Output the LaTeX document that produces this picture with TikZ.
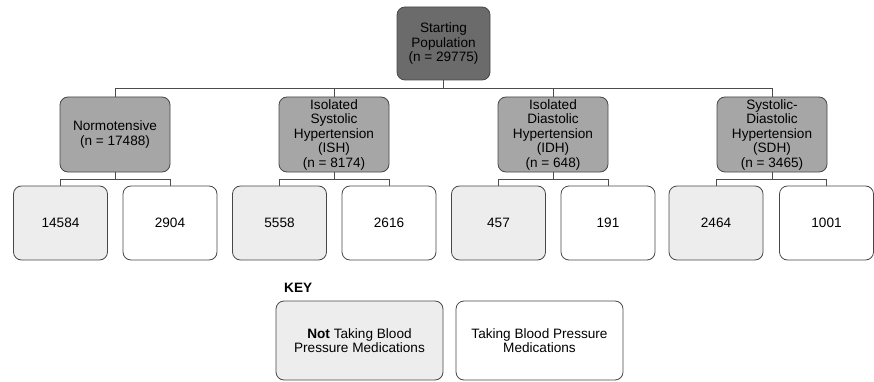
\documentclass[tikz,border=0pt]{standalone}
\usepackage{fontspec}
\setmainfont{Liberation Sans}
\begin{document}
\begin{tikzpicture}[x=1pt,y=-1pt,
  box/.style={draw=black!72,line width=0.8pt,rounded corners=8pt,align=center,inner sep=0pt,
    font=\fontsize{13.6}{14.5}\selectfont},
  topbox/.style={box,fill=black!58,minimum width=93pt,minimum height=73pt},
  midbox/.style={box,fill=black!35,minimum width=110pt,minimum height=75pt},
  notbox/.style={box,fill=black!7,minimum width=94pt,minimum height=74pt},
  takebox/.style={box,fill=white,minimum width=94pt,minimum height=74pt},
  keybox/.style={box,minimum width=167pt,minimum height=79pt},
  conn/.style={draw=black!70,line width=0.8pt}]
\useasboundingbox (0,0) rectangle (874,382);
\node[topbox] (top) at (443.5,43.5) {Starting\\Population\\(n = 29775)};
\node[midbox] (n1) at (115,134.5) {Normotensive\\(n = 17488)};
\node[midbox] (n2) at (334,134.5) {Isolated\\Systolic\\Hypertension\\(ISH)\\(n = 8174)};
\node[midbox] (n3) at (553,134.5) {Isolated\\Diastolic\\Hypertension\\(IDH)\\(n = 648)};
\node[midbox] (n4) at (772,134.5) {Systolic-\\Diastolic\\Hypertension\\(SDH)\\(n = 3465)};
\node[notbox] (c1) at (60.5,223) {14584};
\node[takebox] (c2) at (170,223) {2904};
\node[notbox] (c3) at (279.5,223) {5558};
\node[takebox] (c4) at (389,223) {2616};
\node[notbox] (c5) at (498.5,223) {457};
\node[takebox] (c6) at (608,223) {191};
\node[notbox] (c7) at (716,223) {2464};
\node[takebox] (c8) at (826.5,223) {1001};
\foreach \n in {n1,n2,n3,n4}
  \draw[conn] (top.south) -- ++(0,8) -| (\n.north);
\foreach \p/\a/\b in {n1/c1/c2,n2/c3/c4,n3/c5/c6,n4/c7/c8}{
  \draw[conn] (\p.south) -- ++(0,6.5) -| (\a.north);
  \draw[conn] (\p.south) -- ++(0,6.5) -| (\b.north);
}
\node[font=\fontsize{13.6}{14.5}\selectfont\bfseries,anchor=west,inner sep=0pt] (key) at (284,288) {KEY};
\node[keybox,fill=black!7] (k1) at (359.5,340.5) {\textbf{Not} Taking Blood\\Pressure Medications};
\node[keybox,fill=white] (k2) at (539.5,340.5) {Taking Blood Pressure\\Medications};
\end{tikzpicture}
\end{document}
